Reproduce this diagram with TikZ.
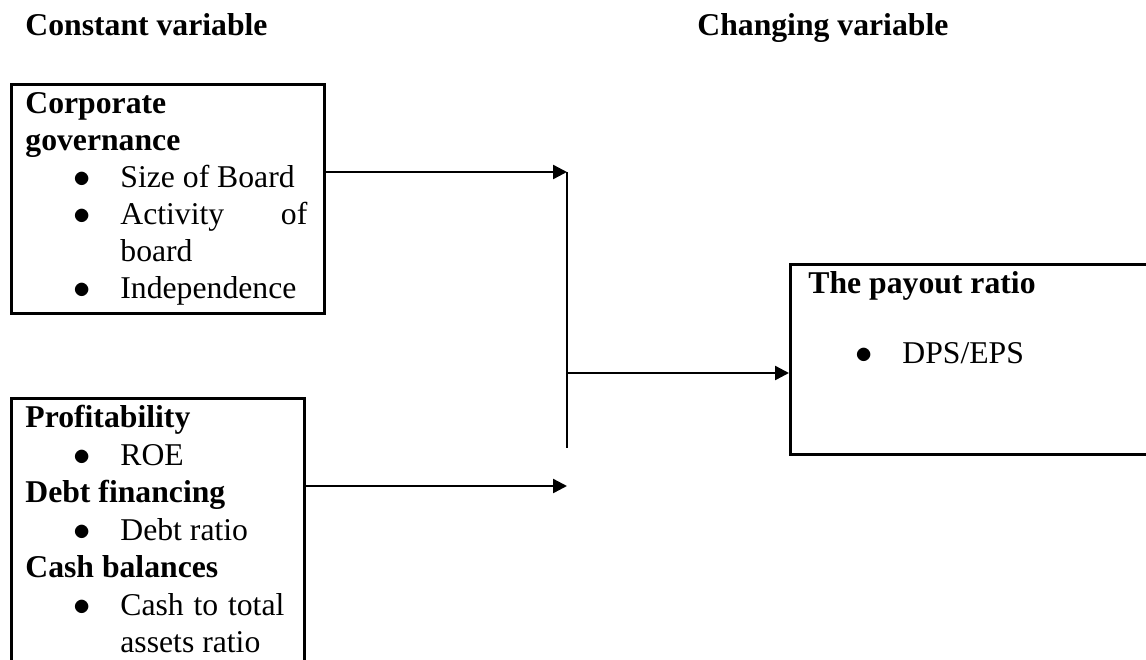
\documentclass[tikz,border=0pt]{standalone}
\usepackage{fontspec}
\setmainfont{Liberation Serif}
\usetikzlibrary{arrows.meta}
\tikzset{
   box/.style={draw,line width=1.5pt,inner sep=0pt,anchor=north west},
   txt/.style={anchor=base west,inner sep=0pt,text height=0.7em,text depth=0.2em,font=\fontsize{15.85}{19}\selectfont},
   hd/.style={txt,font=\fontsize{15.85}{19}\selectfont\bfseries},
   arr/.style={-{Triangle[length=7pt,width=7pt]},line width=1.2pt},
   ln/.style={line width=1pt},
}
\newcommand{\bitem}[1]{\makebox[23.5pt][l]{$\bullet$}#1}

\begin{document}
\begin{tikzpicture}[x=0.5pt,y=-0.5pt]

        \useasboundingbox (0,0) rectangle (1146,659);
        \clip (0,0) rectangle (1146,659);

        \node[hd] (cv)  at (25,35)  {Constant variable};
        \node[hd] (chv) at (697,35) {Changing variable};

        % boxes
        \node[box,minimum width=156.5pt,minimum height=114.5pt] (gov) at (10,83) {};
        \node[box,minimum width=146.5pt,minimum height=160pt]   (fin) at (10,397) {};
        \node[box,minimum width=200pt,minimum height=95pt]      (pay) at (789,263) {};

        \node[hd]  (g1) at (25,113) {Corporate};
        \node[hd]  (g2) at (25,150) {governance};
        \node[txt] (g3) at (73,187) {\bitem{Size of Board}};
        \node[txt] (g4) at (73,224) {\bitem{\makebox[93.5pt][s]{Activity of}}};
        \node[txt] (g5) at (120,261) {board};
        \node[txt] (g6) at (73,298) {\bitem{Independence}};

        \node[hd]  (f1) at (25,427) {Profitability};
        \node[txt] (f2) at (73,465) {\bitem{ROE}};
        \node[hd]  (f3) at (25,502) {Debt financing};
        \node[txt] (f4) at (73,540) {\bitem{Debt ratio}};
        \node[hd]  (f5) at (25,577) {Cash balances};
        \node[txt] (f6) at (73,615) {\bitem{\makebox[82pt][s]{Cash to total}}};
        \node[txt] (f7) at (120,652) {assets ratio};

        \node[hd]  (p1) at (808,293) {The payout ratio};
        \node[txt] (p2) at (855,363) {\bitem{DPS/EPS}};

        % connectors
        \coordinate (j1) at (567,172);
        \coordinate (j2) at (567,486);
        \coordinate (jm) at (567,373);
        \coordinate (je) at (567,448);

        \draw[arr] (gov.east |- j1) -- (j1);
        \draw[arr] (fin.east |- j2) -- (j2);
        \draw[ln]  (j1) -- (je);
        \draw[arr] (jm) -- (jm -| pay.west);

\end{tikzpicture}
\end{document}
